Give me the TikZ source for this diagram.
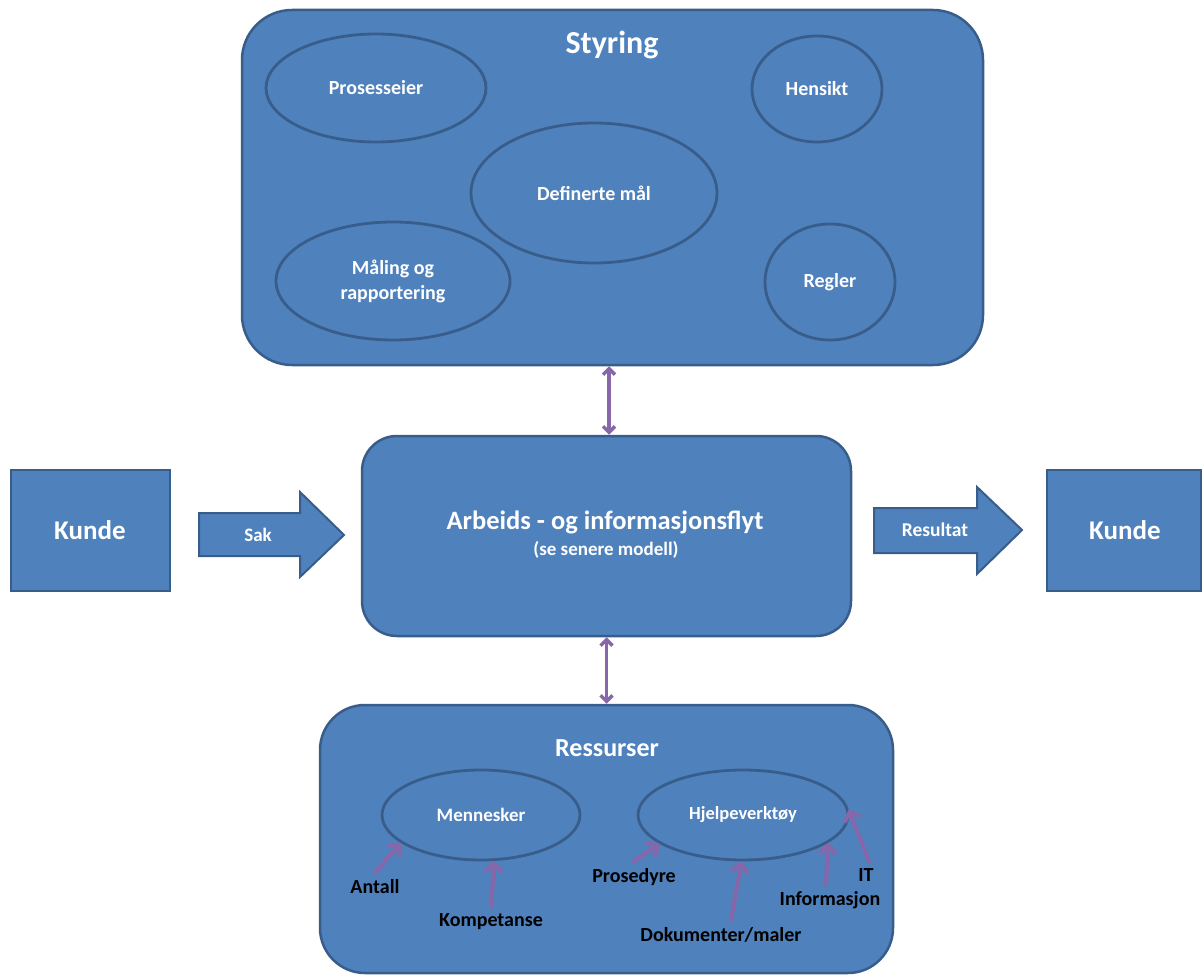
\documentclass[tikz,border=0pt]{standalone}
\usepackage{fontspec}
\setmainfont{Carlito}
\usetikzlibrary{shapes.geometric,arrows.meta}
\definecolor{boxfill}{HTML}{4F81BD}
\definecolor{boxline}{HTML}{385D8A}
\definecolor{linkcol}{HTML}{8866AA}
\begin{document}
\begin{tikzpicture}[x=1pt, y=-1pt,
	panel/.style={draw=boxline, fill=boxfill, line width=2.5pt, rounded corners=#1, inner sep=0pt},
	oval/.style={ellipse, draw=boxline, line width=2.8pt, inner sep=0pt, text=white, align=center,
		font=\bfseries\fontsize{20}{25}\selectfont},
	head/.style={text=white, inner sep=1pt, font=\bfseries\fontsize{#1}{#1}\selectfont},
	tag/.style={text=black, inner sep=1pt, font=\bfseries\fontsize{20}{22}\selectfont},
	blockarrow/.style={draw=boxline, fill=boxfill, line width=2pt, line join=miter},
	link/.style={draw=linkcol, line width=3.5pt, {Straight Barb[length=6pt,width=12pt]}-{Straight Barb[length=6pt,width=12pt]}},
	feed/.style={draw=linkcol, line width=4pt, line cap=round, -{Straight Barb[length=8pt,width=17pt]}}]
	\useasboundingbox (0,0) rectangle (1202,976);
	% styring
	\node[panel=50pt, minimum width=741pt, minimum height=355pt] (styring) at (612.5,187.5) {};
	\node[head=32] (styringlbl) at (612,45) {Styring};
	\node[oval, minimum width=220pt, minimum height=108pt] (eier)   at (376,88)  {Prosesseier};
	\node[oval, minimum width=130pt, minimum height=106pt] (hensikt) at (817,89) {Hensikt};
	\node[oval, minimum width=246pt, minimum height=140pt] (maal)   at (594,193) {Definerte mål};
	\node[oval, minimum width=234pt, minimum height=118pt] (maaling) at (393,281) {Måling og\\rapportering};
	\node[oval, minimum width=130pt, minimum height=116pt] (regler) at (830,282) {Regler};
	% flyt
	\node[panel=35pt, minimum width=489pt, minimum height=200pt] (flyt) at (606.5,536) {};
	\node[head=26.5] (flytlbl) at (605,522) {Arbeids - og informasjonsflyt};
	\node[head=19] (flytsub) at (606,550) {(se senere modell)};
	% kunder
	\draw[draw=boxline, fill=boxfill, line width=2.5pt] (11,470) rectangle (170,591);
	\node[head=27] (kundeinn) at (90,530) {Kunde};
	\draw[draw=boxline, fill=boxfill, line width=2.5pt] (1047,470) rectangle (1201,591);
	\node[head=27] (kundeut) at (1125,530) {Kunde};
	% piler
	\draw[blockarrow] (199,513) -- (300,513) -- (300,492) -- (344,535) -- (300,577) -- (300,556) -- (199,556) -- cycle;
	\node[head=19] (sak) at (258,535) {Sak};
	\draw[blockarrow] (874,508) -- (977,508) -- (977,487) -- (1022,530) -- (977,574) -- (977,553) -- (874,553) -- cycle;
	\node[head=19.5] (resultat) at (935,530) {Resultat};
	% ressurser
	\node[panel=45pt, minimum width=573pt, minimum height=268pt] (ress) at (606.5,839) {};
	\node[head=26] (resslbl) at (607,748) {Ressurser};
	\node[oval, minimum width=198pt, minimum height=90pt, font=\bfseries\fontsize{19}{21}\selectfont] (menn)  at (481,815) {Mennesker};
	\node[oval, minimum width=210pt, minimum height=90pt, font=\bfseries\fontsize{18.5}{21}\selectfont] (hjelp) at (743,815) {Hjelpeverktøy};
	\node[tag] (antall)   at (375,887) {Antall};
	\node[tag] (komp)     at (491,922) {Kompetanse};
	\node[tag] (prosedyre) at (634,877) {Prosedyre};
	\node[tag] (dok)      at (721,935) {Dokumenter/maler};
	\node[tag] (info)     at (830,900) {Informasjon};
	\node[tag] (it)       at (866,875) {IT};
	% koblinger
	\draw[link] (flyt.north -| 609,0) -- (styring.south -| 609,0);
	\draw[link] (flyt.south) -- (ress.north);
	\draw[feed] ([yshift=6pt]antall.north) -- (menn.199);
	\draw[feed] ([yshift=6pt]komp.north) -- (menn.286);
	\draw[feed] ([yshift=6pt]prosedyre.north) -- (hjelp.199);
	\draw[feed] ([xshift=10pt,yshift=6pt]dok.north) -- (hjelp.268);
	\draw[feed] ([xshift=-4pt,yshift=6pt]info.north) -- (hjelp.342);
	\draw[feed] ([xshift=3pt,yshift=6pt]it.north) -- (hjelp.3);
\end{tikzpicture}
\end{document}
